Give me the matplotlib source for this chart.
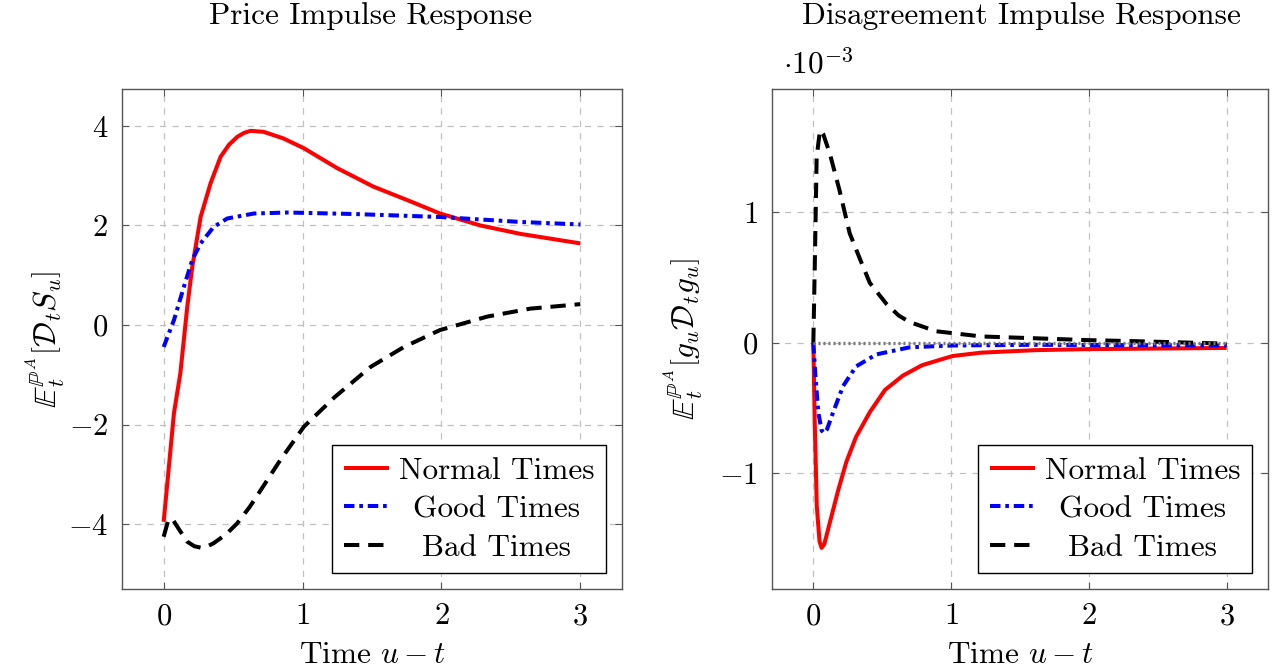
import matplotlib
matplotlib.use("Agg")
import matplotlib.pyplot as plt

plt.rcParams["font.family"] = "serif"
plt.rcParams["font.serif"] = ["cmr10", "DejaVu Serif"]
plt.rcParams["mathtext.fontset"] = "cm"
plt.rcParams["axes.formatter.use_mathtext"] = True
plt.rcParams["axes.unicode_minus"] = True

# ---- price impulse response (left) ----
t_norm_p = [0, 0.074, 0.12, 0.17, 0.206, 0.266, 0.338, 0.41, 0.47, 0.53, 0.58, 0.626, 0.72,
            0.86, 1.01, 1.25, 1.51, 1.78, 1.99, 2.28, 2.57, 3.0]
price_norm = [-3.95, -1.77, -0.97, 0.37, 1.17, 2.17, 2.85, 3.38, 3.62, 3.78, 3.86, 3.90, 3.88,
              3.75, 3.55, 3.15, 2.78, 2.48, 2.24, 2.00, 1.83, 1.64]

t_good_p = [0, 0.074, 0.146, 0.206, 0.266, 0.36, 0.458, 0.65, 0.89, 1.37, 1.99, 2.57, 3.0]
price_good = [-0.44, 0.10, 0.77, 1.31, 1.64, 1.97, 2.14, 2.24, 2.26, 2.23, 2.17, 2.07, 2.02]

t_bad_p = [0, 0.03, 0.06, 0.11, 0.17, 0.22, 0.266, 0.31, 0.36, 0.45, 0.53, 0.62, 0.70, 0.84,
           1.01, 1.23, 1.49, 1.73, 1.99, 2.33, 2.64, 3.0]
price_bad = [-4.25, -3.95, -3.88, -4.1, -4.35, -4.44, -4.47, -4.45, -4.38, -4.2, -3.98, -3.65,
             -3.31, -2.71, -2.04, -1.45, -0.84, -0.44, -0.10, 0.17, 0.33, 0.42]

# ---- disagreement impulse response (right), in units of 1e-3 ----
t_norm_d = [0, 0.01, 0.025, 0.045, 0.06, 0.08, 0.12, 0.18, 0.24, 0.31, 0.41, 0.52, 0.65, 0.79,
            1.01, 1.22, 1.61, 1.99, 3.0]
dis_norm = [0, -0.6, -1.25, -1.52, -1.57, -1.54, -1.375, -1.13, -0.91, -0.72, -0.53, -0.36,
            -0.25, -0.17, -0.10, -0.074, -0.055, -0.047, -0.038]

t_good_d = [0, 0.015, 0.036, 0.06, 0.077, 0.1, 0.144, 0.216, 0.31, 0.456, 0.70, 1.01, 1.61, 3.0]
dis_good = [0, -0.25, -0.53, -0.67, -0.69, -0.66, -0.53, -0.33, -0.18, -0.088, -0.033,
            -0.019, -0.014, -0.019]

t_bad_d = [0, 0.012, 0.024, 0.048, 0.072, 0.12, 0.19, 0.264, 0.336, 0.41, 0.53, 0.62, 0.70,
           0.89, 1.22, 1.61, 1.99, 2.33, 3.0]
dis_bad = [0, 0.68, 1.42, 1.63, 1.60, 1.45, 1.17, 0.84, 0.65, 0.46, 0.30, 0.21, 0.16, 0.09,
           0.05, 0.036, 0.022, 0.014, -0.005]

zero_t = [0, 3]
zero_v = [0, 0]

labels = ["Normal Times", "Good Times", "Bad Times"]

fs = 22.5

fig = plt.figure(figsize=(12.78, 6.70), dpi=100)
ax1 = fig.add_axes([122 / 1278, 1 - 589 / 670, 500 / 1278, 500 / 670])
ax2 = fig.add_axes([772 / 1278, 1 - 589 / 670, 496 / 1278, 500 / 670])

lw = 2.9
red_kw = dict(color="red", lw=lw, solid_capstyle="butt")
blue_kw = dict(color="blue", lw=lw, dashes=[2.6, 1.2, 0.9, 1.2])
black_kw = dict(color="black", lw=lw, dashes=[3.8, 2.2])

ax1.plot(t_norm_p, price_norm, label=labels[0], **red_kw)
ax1.plot(t_good_p, price_good, label=labels[1], **blue_kw)
ax1.plot(t_bad_p, price_bad, label=labels[2], **black_kw)

ax2.plot(t_norm_d, dis_norm, label=labels[0], **red_kw)
ax2.plot(t_good_d, dis_good, label=labels[1], **blue_kw)
ax2.plot(t_bad_d, dis_bad, label=labels[2], **black_kw)
ax2.plot(zero_t, zero_v, color="#777777", lw=2.4, dashes=[0.6, 0.9], zorder=5)

ax1.set_xlim(-0.3, 3.3)
ax1.set_ylim(-5.3, 4.74)
ax1.set_yticks([-4, -2, 0, 2, 4])
ax2.set_xlim(-0.3, 3.3)
ax2.set_ylim(-1.885, 1.946)
ax2.set_yticks([-1, 0, 1])

renderer = fig.canvas.get_renderer()
for ax in (ax1, ax2):
    ax.set_xticks([0, 1, 2, 3])
    ax.grid(True, color="#c0c0c0", ls=(0, (5, 5)), lw=0.9)
    ax.tick_params(direction="in", top=True, right=True, length=5, width=0.8,
                   color="#555555", labelsize=fs - 0.5, pad=10)
    for s in ax.spines.values():
        s.set_color("#555555")
        s.set_linewidth(1.0)
    ax.set_xlabel(r"Time $u-t$", fontsize=fs)
    ax.xaxis.set_label_coords(0.5, -0.105)
    leg = ax.legend(loc="lower right", fontsize=fs, frameon=True, fancybox=False,
                    edgecolor="black", framealpha=1, handlelength=1.45,
                    borderaxespad=0.5, labelspacing=0.33, borderpad=0.38,
                    handletextpad=0.32)
    leg.get_frame().set_linewidth(1.0)
    widths = [t.get_window_extent(renderer).width for t in leg.get_texts()]
    wmax = max(widths)
    for t, w in zip(leg.get_texts(), widths):
        t.set_position(((wmax - w) / 2, 0))

ax1.set_ylabel(r"$\mathbb{E}_t^{\mathbb{P}^A}\left[\mathcal{D}_t S_u\right]$", fontsize=fs)
ax1.yaxis.set_label_coords(-0.11, 0.5)
ax2.set_ylabel(r"$\mathbb{E}_t^{\mathbb{P}^A}\left[g_u \mathcal{D}_t g_u\right]$", fontsize=fs)
ax2.yaxis.set_label_coords(-0.135, 0.5)

ax2.text(0.022, 1.018, r"$\cdot 10^{-3}$", transform=ax2.transAxes, fontsize=fs,
         ha="left", va="bottom")

fig.text(371 / 1278, 1 - 16 / 670, "Price Impulse Response", fontsize=fs,
         ha="center", va="center")
fig.text(1021 / 1278, 1 - 16 / 670, "Disagreement Impulse Response", fontsize=fs,
         ha="center", va="center")

fig.savefig("out.png", dpi=100)
